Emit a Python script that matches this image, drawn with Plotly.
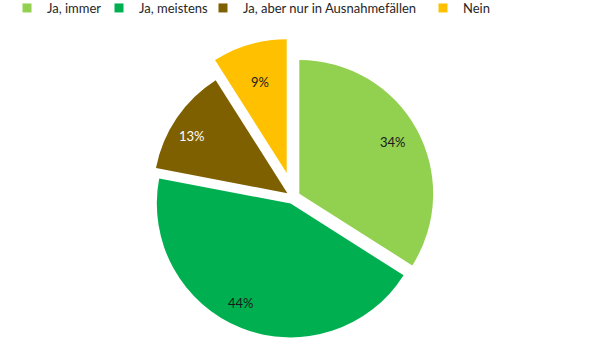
import math
import plotly.graph_objects as go

# Survey answers and their shares (percent)
labels = ["Ja, immer", "Ja, meistens", "Ja, aber nur in Ausnahmefällen", "Nein"]
shares = [34, 44, 13, 9]
colors = ["#92D050", "#00B050", "#7F6000", "#FFC000"]
label_colors = ["#1a1a1a", "#1a1a1a", "#ffffff", "#1a1a1a"]

W, H = 600, 338
FONT = "Lato"

# Geometry of the exploded pie (pixels)
cx, cy, r = 293.2, 197.1, 133.8   # common centre and radius
pull_small = 7.0 / r              # slight explosion of the first three slices
nein_apex = (286.7, 173.0)        # the "Nein" slice is pulled further out
label_radius = [0.80, 0.83, 0.83, 0.71]  # label distance from the slice tip, share of r
label_turn = [0, 5, -3, 0]               # small angular nudge of each label (degrees)


def domain(center_x, center_y, half):
    return dict(
        x=[(center_x - half) / W, (center_x + half) / W],
        y=[(H - center_y - half) / H, (H - center_y + half) / H],
    )


transparent = "rgba(0,0,0,0)"
last = len(labels) - 1

# Main pie: every slice except "Nein"
main_colors = [c if i != last else transparent for i, c in enumerate(colors)]
main_pull = [pull_small if i != last else 0 for i in range(len(labels))]

# Second pie drawing only the strongly exploded "Nein" slice
nein_colors = [c if i == last else transparent for i, c in enumerate(colors)]

fig = go.Figure()
fig.add_trace(go.Pie(
    labels=labels, values=shares, sort=False, direction="clockwise", rotation=0,
    marker=dict(colors=main_colors, line=dict(width=0)),
    pull=main_pull, textinfo="none",
    domain=domain(cx, cy, r * (1 + pull_small)),
    showlegend=False, hoverinfo="label+percent",
))
fig.add_trace(go.Pie(
    labels=labels, values=shares, sort=False, direction="clockwise", rotation=0,
    marker=dict(colors=nein_colors, line=dict(width=0)),
    textinfo="none",
    domain=domain(nein_apex[0], nein_apex[1], r),
    showlegend=False, hoverinfo="label+percent",
))

# Percent labels placed along each slice's middle angle
total = sum(shares)
start = 0.0
for i, v in enumerate(shares):
    mid_frac = (start + v / 2) / total
    start += v
    mid = mid_frac * 2 * math.pi                      # clockwise from 12 o'clock
    ux, uy = math.sin(mid), -math.cos(mid)
    if i == last:
        ax, ay = nein_apex
    else:
        ax, ay = cx + pull_small * r * ux, cy + pull_small * r * uy
    lab = mid + math.radians(label_turn[i])
    px = ax + label_radius[i] * r * math.sin(lab)
    py = ay - label_radius[i] * r * math.cos(lab)
    fig.add_annotation(
        x=px / W, y=1 - py / H, xref="paper", yref="paper",
        xanchor="center", yanchor="middle",
        text=f"{v / total:.0%}", showarrow=False,
        font=dict(family=FONT, size=13, color=label_colors[i]),
    )

# Legend entries, one legend per entry so each can sit at its own spot
legend_x = [30, 122, 226, 446]
legend_keys = ["legend", "legend2", "legend3", "legend4"]
for name, col, key in zip(labels, colors, legend_keys):
    fig.add_trace(go.Scatter(
        x=[None], y=[None], mode="markers", name=name,
        marker=dict(symbol="square", size=9, color=col),
        legend=key, hoverinfo="skip",
    ))

layout_legends = {}
for x, key in zip(legend_x, legend_keys):
    layout_legends[key] = dict(
        x=(x - 23) / W, y=1 + 7 / H, xanchor="left", yanchor="top",
        orientation="h", bgcolor="rgba(0,0,0,0)", borderwidth=0,
        font=dict(family=FONT, size=13, color="#262626"),
    )

fig.update_layout(
    width=W, height=H,
    margin=dict(l=0, r=0, t=0, b=0, autoexpand=False),
    paper_bgcolor="white", plot_bgcolor="white",
    xaxis=dict(visible=False), yaxis=dict(visible=False),
    **layout_legends,
)

fig.write_html("out.html")
